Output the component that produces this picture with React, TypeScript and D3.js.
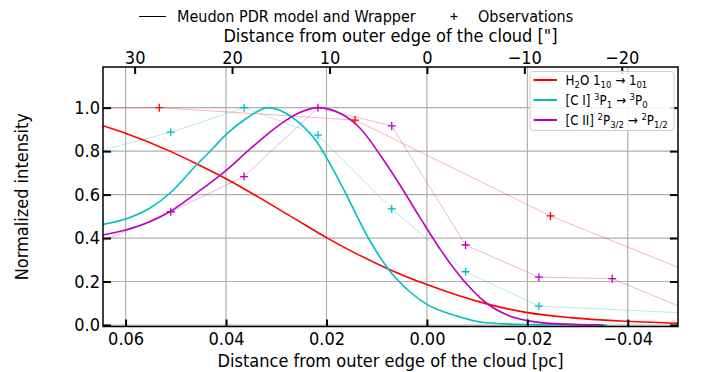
import React, { useEffect, useRef } from 'react'
import * as d3 from 'd3'

// distance from outer edge of cloud [pc] -> normalized intensity
const h2oModelX = [0.0645, 0.06, 0.0512, 0.0459, 0.04, 0.0333, 0.0266, 0.02, 0.0138, 0.0077, 0.0, -0.0119, -0.02, -0.0285, -0.0385, -0.05]
const h2oModelY = [0.917, 0.882, 0.8, 0.742, 0.673, 0.585, 0.493, 0.402, 0.325, 0.258, 0.186, 0.097, 0.057, 0.034, 0.018, 0.008]

const ciModelX = [0.0645, 0.06, 0.0552, 0.0512, 0.0459, 0.0426, 0.0399, 0.0359, 0.0316, 0.0266, 0.0217, 0.02, 0.016, 0.012, 0.0077, 0.0034, 0.0, -0.0053, -0.0119, -0.02, -0.0358]
const ciModelY = [0.463, 0.488, 0.537, 0.606, 0.736, 0.813, 0.878, 0.951, 1.0, 0.952, 0.835, 0.77, 0.598, 0.414, 0.258, 0.153, 0.095, 0.046, 0.01, 0.002, 0.0]

const ciiModelX = [0.0645, 0.06, 0.0553, 0.0512, 0.0459, 0.0399, 0.0352, 0.0313, 0.0293, 0.0253, 0.0217, 0.0173, 0.0133, 0.0093, 0.0054, 0.0014, -0.0026, -0.0073, -0.0119, -0.0159, -0.02, -0.0265, -0.0351]
const ciiModelY = [0.414, 0.437, 0.474, 0.521, 0.607, 0.713, 0.81, 0.886, 0.922, 0.978, 1.0, 0.974, 0.905, 0.782, 0.645, 0.495, 0.35, 0.205, 0.1, 0.047, 0.02, 0.005, 0.0]

// observations
const h2oObsX = [0.0921, 0.0533, 0.0143, -0.0246, -0.0634]
const h2oObsY = [0.99, 1.0, 0.943, 0.502, 0.14]

const ciObsX = [0.0656, 0.051, 0.0364, 0.0217, 0.007, -0.0077, -0.0223, -0.0516]
const ciObsY = [0.798, 0.887, 1.0, 0.874, 0.534, 0.245, 0.087, 0.055]

const ciiObsX = [0.0656, 0.051, 0.0364, 0.0217, 0.007, -0.0077, -0.0223, -0.0369, -0.0516]
const ciiObsY = [0.376, 0.521, 0.683, 1.0, 0.916, 0.368, 0.22, 0.213, 0.073]

const pcTicks = [0.06, 0.04, 0.02, 0.0, -0.02, -0.04]
const arcsecTicks = [30, 20, 10, 0, -10, -20]
const yTicks = [0.0, 0.2, 0.4, 0.6, 0.8, 1.0]
const PC_PER_ARCSEC = 0.00194

const colors = ['#ff0000', '#00bfbf', '#bf00bf']

// legend labels: [text, 0 normal | 1 superscript | -1 subscript]
const legendLabels: [string, number][][] = [
  [['H', 0], ['2', -1], ['O 1', 0], ['10', -1], [' → 1', 0], ['01', -1]],
  [['[C I] ', 0], ['3', 1], ['P', 0], ['1', -1], [' → ', 0], ['3', 1], ['P', 0], ['0', -1]],
  [['[C II] ', 0], ['2', 1], ['P', 0], ['3/2', -1], [' → ', 0], ['2', 1], ['P', 0], ['1/2', -1]],
]

const FONT = "'DejaVu Sans Condensed', 'DejaVu Sans', sans-serif"

const left = 103
const right = 678
const top = 67
const bottom = 326.5

const x = d3.scaleLinear().domain([0.0645, -0.05]).range([left, right])
const xTop = d3
  .scaleLinear()
  .domain([0.0645 / PC_PER_ARCSEC, -0.05 / PC_PER_ARCSEC])
  .range([left, right])
const y = d3.scaleLinear().domain([-0.007, 1.187]).range([bottom, top])

const App = () => {
  const ref = useRef<SVGSVGElement>(null)

  useEffect(() => {
    const svg = d3.select(ref.current)
    svg.selectAll('*').remove()
    svg.attr('font-family', FONT)

    svg
      .append('clipPath')
      .attr('id', 'plot-clip')
      .append('rect')
      .attr('x', left)
      .attr('y', top)
      .attr('width', right - left)
      .attr('height', bottom - top)

    // grid
    const grid = svg.append('g').attr('stroke', '#b0b0b0').attr('stroke-width', 1.2)
    grid
      .selectAll('.gx')
      .data(pcTicks)
      .join('line')
      .attr('x1', (d) => x(d))
      .attr('x2', (d) => x(d))
      .attr('y1', top)
      .attr('y2', bottom)
    grid
      .selectAll('.gy')
      .data(yTicks)
      .join('line')
      .attr('x1', left)
      .attr('x2', right)
      .attr('y1', (d) => y(d))
      .attr('y2', (d) => y(d))

    const plot = svg.append('g').attr('clip-path', 'url(#plot-clip)')

    const obs = [
      [h2oObsX, h2oObsY],
      [ciObsX, ciObsY],
      [ciiObsX, ciiObsY],
    ]
    const models = [
      [h2oModelX, h2oModelY],
      [ciModelX, ciModelY],
      [ciiModelX, ciiModelY],
    ]

    const straight = d3.line<number>()
    const smooth = d3.line<number>().curve(d3.curveMonotoneX)

    // observation lines (faint)
    obs.forEach(([xs, ys], i) => {
      plot
        .append('path')
        .attr('d', straight.x((d) => x(xs[d])).y((d) => y(ys[d]))(d3.range(xs.length)))
        .attr('fill', 'none')
        .attr('stroke', colors[i])
        .attr('stroke-opacity', 0.3)
        .attr('stroke-width', 1)
    })

    // model curves
    models.forEach(([xs, ys], i) => {
      plot
        .append('path')
        .attr('d', smooth.x((d) => x(xs[d])).y((d) => y(ys[d]))(d3.range(xs.length)))
        .attr('fill', 'none')
        .attr('stroke', colors[i])
        .attr('stroke-width', 1.6)
    })

    // observation markers
    obs.forEach(([xs, ys], i) => {
      const m = plot
        .append('g')
        .attr('stroke', colors[i])
        .attr('stroke-width', 1.3)
        .selectAll('g')
        .data(d3.range(xs.length))
        .join('g')
        .attr('transform', (d) => `translate(${x(xs[d])},${y(ys[d])})`)
      m.append('line').attr('x1', -4).attr('x2', 4)
      m.append('line').attr('y1', -4).attr('y2', 4)
    })

    // axes (inward ticks)
    const styleAxis = (g) => {
      g.select('.domain').remove()
      g.selectAll('.tick line').attr('stroke', '#000').attr('stroke-width', 2)
      g.selectAll('.tick text').attr('fill', '#000').attr('font-size', 18).attr('font-family', FONT)
    }

    svg
      .append('g')
      .attr('transform', `translate(0,${bottom})`)
      .call(d3.axisBottom(x).tickValues(pcTicks).tickFormat(d3.format('.2f')).tickSize(-7).tickPadding(6))
      .call(styleAxis)

    svg
      .append('g')
      .attr('transform', `translate(0,${top})`)
      .call(d3.axisTop(xTop).tickValues(arcsecTicks).tickFormat(d3.format('d')).tickSize(-7).tickPadding(3.5))
      .call(styleAxis)

    svg
      .append('g')
      .attr('transform', `translate(${left},0)`)
      .call(d3.axisLeft(y).tickValues(yTicks).tickFormat(d3.format('.1f')).tickSize(-8).tickPadding(3))
      .call(styleAxis)

    svg
      .append('g')
      .attr('transform', `translate(${right},0)`)
      .call(d3.axisRight(y).tickValues(yTicks).tickFormat(() => '').tickSize(-8))
      .call(styleAxis)

    // spines
    svg
      .append('rect')
      .attr('x', left)
      .attr('y', top)
      .attr('width', right - left)
      .attr('height', bottom - top)
      .attr('fill', 'none')
      .attr('stroke', '#000')
      .attr('stroke-width', 1.5)

    // axis labels
    svg
      .append('text')
      .attr('x', (left + right) / 2)
      .attr('y', 367)
      .attr('text-anchor', 'middle')
      .attr('font-size', 18)
      .text('Distance from outer edge of the cloud [pc]')

    svg
      .append('text')
      .attr('x', (left + right) / 2)
      .attr('y', 41.5)
      .attr('text-anchor', 'middle')
      .attr('font-size', 18)
      .text('Distance from outer edge of the cloud ["]')

    svg
      .append('text')
      .attr('transform', `translate(28,${(top + bottom) / 2}) rotate(-90)`)
      .attr('text-anchor', 'middle')
      .attr('font-size', 18)
      .text('Normalized intensity')

    // top legend
    const topLeg = svg.append('g').attr('font-size', 16)
    topLeg.append('line').attr('x1', 139).attr('x2', 166).attr('y1', 16.5).attr('y2', 16.5).attr('stroke', '#000').attr('stroke-width', 1)
    topLeg.append('text').attr('x', 177).attr('y', 21.5).text('Meudon PDR model and Wrapper')
    const plus = topLeg.append('g').attr('stroke', '#000').attr('stroke-width', 1.2).attr('transform', 'translate(454,16.5)')
    plus.append('line').attr('x1', -3.5).attr('x2', 3.5)
    plus.append('line').attr('y1', -3.5).attr('y2', 3.5)
    topLeg.append('text').attr('x', 478).attr('y', 21.5).text('Observations')

    // inner legend
    const leg = svg.append('g')
    leg
      .append('rect')
      .attr('x', 530)
      .attr('y', 71.5)
      .attr('width', 144)
      .attr('height', 59)
      .attr('rx', 3)
      .attr('fill', '#fff')
      .attr('fill-opacity', 0.85)
      .attr('stroke', '#d0d0d0')

    legendLabels.forEach((parts, i) => {
      const cy = 80 + i * 20
      leg
        .append('line')
        .attr('x1', 533.5)
        .attr('x2', 557)
        .attr('y1', cy)
        .attr('y2', cy)
        .attr('stroke', colors[i])
        .attr('stroke-width', 2)
      const t = leg.append('text').attr('x', 565.5).attr('y', cy + 4.8).attr('font-size', 13.2)
      let shift = 0
      parts.forEach(([s, kind]) => {
        const target = kind === 1 ? -5 : kind === -1 ? 3.5 : 0
        t.append('tspan')
          .attr('dy', target - shift)
          .attr('font-size', kind === 0 ? 13.2 : 9.5)
          .text(s)
        shift = target
      })
    })
  }, [])

  return (
    <svg
      ref={ref}
      width={714}
      height={372}
      style={{ position: 'absolute', left: 0, top: 0, background: '#fff' }}
    ></svg>
  )
}

export default App
